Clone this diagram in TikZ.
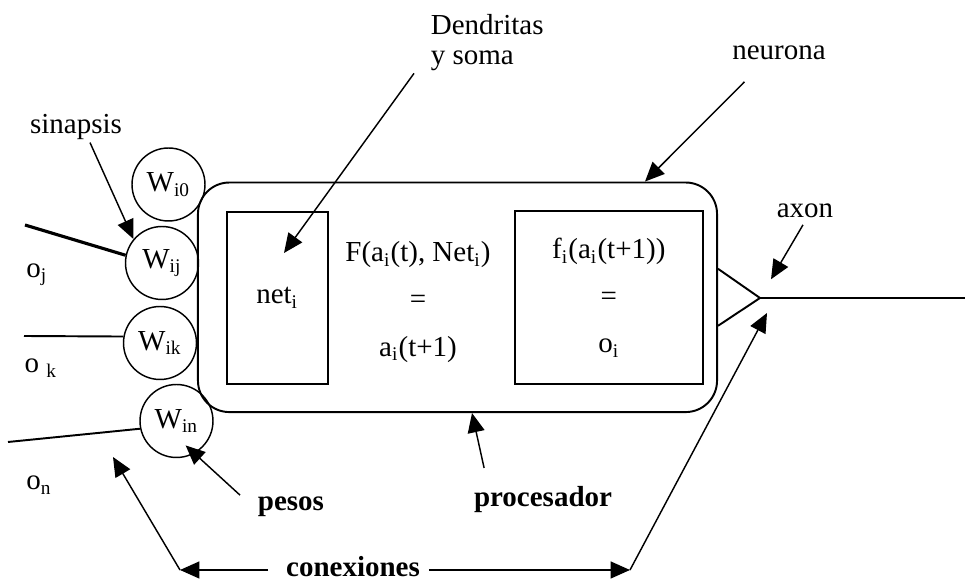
\documentclass[tikz,border=0pt]{standalone}
\usepackage{fontspec}
\setmainfont{Liberation Serif}
\usetikzlibrary{arrows.meta,positioning,calc}
\tikzset{
  cellbox/.style={draw, line width=0.8pt, rounded corners=13pt,
    minimum width=214.8pt, minimum height=95pt},
  innerbox/.style={draw, line width=0.8pt, minimum height=71.5pt,
    align=center, font=\fontsize{12}{19.5}\selectfont},
  weight/.style={draw, circle, line width=0.6pt, inner sep=0pt,
    minimum size=30.2pt, font=\fontsize{12}{14}\selectfont},
  lbl/.style={inner sep=1pt, font=\fontsize{12}{14}\selectfont},
  boldlbl/.style={lbl, font=\fontsize{12}{14}\selectfont\bfseries},
  ptrarr/.style={-{Triangle[length=8pt,width=7pt]}, line width=0.6pt},
  wire/.style={line width=0.8pt},
}

\begin{document}
\begin{tikzpicture}[x=0.4138pt, y=-0.4138pt]
  \useasboundingbox (0,0) rectangle (965,582);

  % the processing unit
  \node[cellbox] (neuron) at (457.5,297.3) {};
  \node[innerbox, minimum width=41.6pt] (netbox) at (277.3,298) {net\textsubscript{i}};
  \node[innerbox, minimum width=77.6pt] (outbox) at (608.8,297.8)
    {f\textsubscript{i}(a\textsubscript{i}(t+1))\\=\\o\textsubscript{i}};
  \node[lbl, align=center, font=\fontsize{12}{19.5}\selectfont] (rule) at (418,302)
    {F(a\textsubscript{i}(t), Net\textsubscript{i})\\=\\a\textsubscript{i}(t+1)};

  % weights
  \node[weight] (wi0) at (168.5,184.5) {W\textsubscript{i0}};
  \node[weight] (wij) at (162,263) {W\textsubscript{ij}};
  \node[weight] (wik) at (160,343) {W\textsubscript{ik}};
  \node[weight] (win) at (176.5,421) {W\textsubscript{in}};

  % inputs
  \coordinate (oj) at (25,225);
  \coordinate (ok) at (24,336);
  \coordinate (on) at (8,442);
  \draw[line width=1.3pt] (oj) -- (wij.168);
  \draw[wire] (ok) -- (wik.170);
  \draw[wire] (on) -- (win.192);
  \node[lbl] (ojlbl) at (37,275) {o\textsubscript{j}};
  \node[lbl] (oklbl) at (41,368) {o~\textsubscript{k}};
  \node[lbl] (onlbl) at (39,485) {o\textsubscript{n}};

  % axon
  \coordinate (axtip) at (760,298);
  \coordinate (axend) at (965,298);
  \draw[wire] ([yshift=11.8pt]neuron.east) -- (axtip) -- ([yshift=-11.8pt]neuron.east);
  \draw[wire] (axtip) -- (axend);

  % labels
  \node[lbl] (sinapsis) at (76,127) {sinapsis};
  \node[lbl, align=left, anchor=north west, font=\fontsize{12}{12.5}\selectfont]
    (dend) at (428,11) {Dendritas\\y soma};
  \node[lbl] (neurona) at (779,53) {neurona};
  \node[lbl] (axon) at (805,211) {axon};
  \node[boldlbl] (pesos) at (291,507) {pesos};
  \node[boldlbl] (proc) at (543,500) {procesador};
  \node[boldlbl] (conex) at (353,567) {conexiones};

  \coordinate (dtip) at (284,253);
  \draw[ptrarr] ($(sinapsis.south)+(14,0)$) -- (wij.140);
  \draw[ptrarr] ($(dend.south west)+(-14,0)$) -- (dtip);
  \draw[ptrarr] ($(neurona.south west)+(15,19)$) -- ($(neuron.north)+(187.5,0)$);
  \draw[ptrarr, shorten >=9pt] ($(axon.south)+(-2,4)$) -- (axtip);
  \draw[ptrarr, shorten >=-5pt] ($(pesos.north west)+(-15,1)$) -- (win.-61);
  \draw[ptrarr] ($(proc.north west)+(13,-16)$) -- ($(neuron.south)+(14.5,0)$);

  % connections
  \coordinate (cl) at (180,570);
  \coordinate (cr) at (630,570);
  \coordinate (cltip) at (113,457);
  \coordinate (crtip) at (767,313);
  \draw[ptrarr] ($(conex.west)+(-15,3)$) -- (cl);
  \draw[ptrarr] (cl) -- (cltip);
  \draw[ptrarr] ($(conex.east)+(6,3)$) -- (cr);
  \draw[ptrarr] (cr) -- (crtip);
\end{tikzpicture}
\end{document}
